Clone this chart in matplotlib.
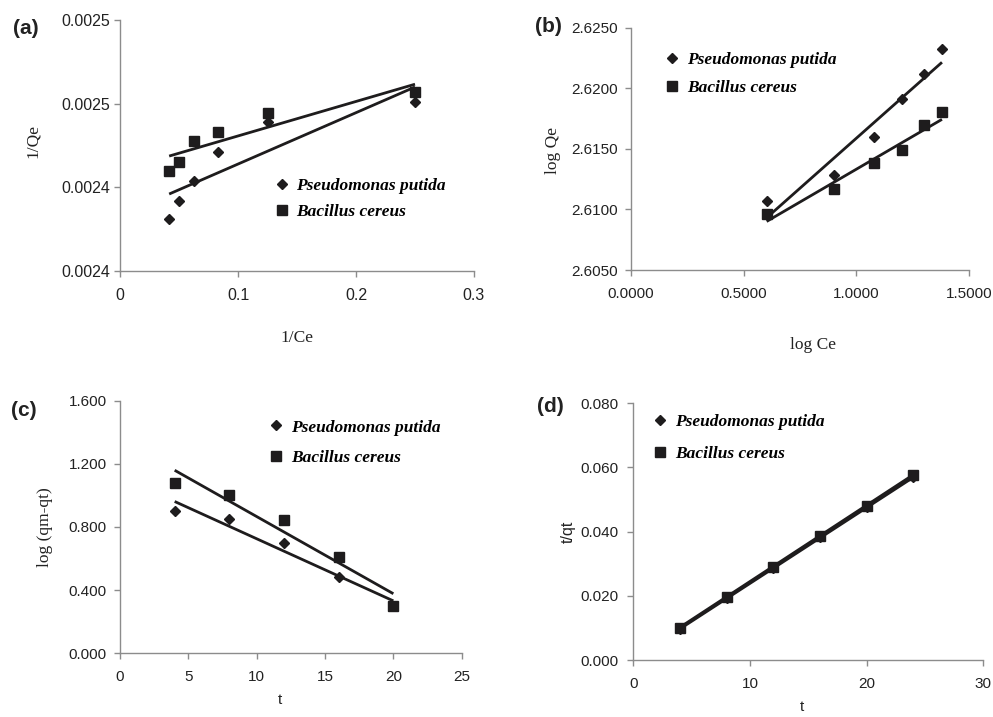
import numpy as np
import matplotlib
matplotlib.use("Agg")
import matplotlib.pyplot as plt
from matplotlib.lines import Line2D

# ---------------- data ----------------
series_names = ["Pseudomonas putida", "Bacillus cereus"]

# (a) Langmuir
a_x = [1/24, 1/20, 1/16, 1/12, 1/8, 1/4]
a_pp = [0.002381, 0.002392, 0.0024036, 0.002421, 0.002439, 0.0024507]
a_bc = [0.0024096, 0.0024154, 0.0024274, 0.002433, 0.0024447, 0.0024567]
a_yticks = [0.00235, 0.0024, 0.00245, 0.0025]
a_yticklabels = ["0.0024", "0.0024", "0.0025", "0.0025"]
a_xticks = [0, 0.1, 0.2, 0.3]
a_xticklabels = ["0", "0.1", "0.2", "0.3"]

# (b) Freundlich
b_x = [0.602, 0.903, 1.079, 1.204, 1.301, 1.380]
b_pp = [2.61067, 2.61281, 2.61598, 2.61909, 2.62120, 2.62324]
b_bc = [2.60959, 2.61171, 2.61383, 2.61488, 2.61697, 2.61801]
b_yticks = [2.605, 2.610, 2.615, 2.620, 2.625]
b_xticks = [0.0, 0.5, 1.0, 1.5]

# (c) pseudo-first order
c_x = [4, 8, 12, 16, 20]
c_pp = [0.903, 0.849, 0.701, 0.481, 0.300]
c_bc = [1.081, 1.005, 0.846, 0.608, 0.302]
c_yticks = [0.0, 0.4, 0.8, 1.2, 1.6]
c_xticks = [0, 5, 10, 15, 20, 25]

# (d) pseudo-second order
d_x = [4, 8, 12, 16, 20, 24]
d_pp = [0.0098, 0.0192, 0.0287, 0.0382, 0.0477, 0.0569]
d_bc = [0.0100, 0.0197, 0.0291, 0.0387, 0.0481, 0.0576]
d_yticks = [0.0, 0.02, 0.04, 0.06, 0.08]
d_xticks = [0, 10, 20, 30]

# ---------------- style ----------------
INK = "#1e1c1d"
SPINE = "#8c8c8c"
SANS = "Liberation Sans"
SERIF = "Liberation Serif"
MS_D = 5.6
MS_S = 6.5

W, H = 993, 717
fig = plt.figure(figsize=(W / 100, H / 100), dpi=100)


def px_axes(left, right, top, bottom):
    return fig.add_axes([left / W, 1 - bottom / H, (right - left) / W, (bottom - top) / H])


def style_axes(ax, ypad, xpad=8.0, fs=11):
    for s in ["top", "right"]:
        ax.spines[s].set_visible(False)
    for s in ["left", "bottom"]:
        ax.spines[s].set_color(SPINE)
        ax.spines[s].set_linewidth(1.0)
    ax.tick_params(axis="both", direction="out", length=4, width=1.0, color=SPINE,
                   labelsize=fs, labelcolor="#222222")
    ax.tick_params(axis="y", pad=ypad)
    ax.tick_params(axis="x", pad=xpad)
    for lab in ax.get_xticklabels() + ax.get_yticklabels():
        lab.set_fontfamily(SANS)


def draw_series(ax, x, yp, yb, lw=2.0):
    x = np.asarray(x, float)
    for y in (yp, yb):
        y = np.asarray(y, float)
        k, b = np.polyfit(x, y, 1)
        xs = np.array([x.min(), x.max()])
        ax.plot(xs, k * xs + b, color=INK, lw=lw, solid_capstyle="butt", zorder=2)
    ax.plot(x, yp, linestyle="none", marker="D", ms=MS_D, color=INK, zorder=3)
    ax.plot(x, yb, linestyle="none", marker="s", ms=MS_S, color=INK, zorder=3)


def add_legend(ax, left_px, mid_px, spacing):
    handles = [Line2D([], [], linestyle="none", marker="D", ms=MS_D, color=INK),
               Line2D([], [], linestyle="none", marker="s", ms=MS_S, color=INK)]
    leg = ax.legend(handles, series_names, loc="center left",
                    bbox_to_anchor=(left_px / W, 1 - mid_px / H),
                    bbox_transform=fig.transFigure, frameon=False,
                    handlelength=1.0, handletextpad=0.35, borderpad=0,
                    borderaxespad=0, labelspacing=spacing,
                    prop={"family": SERIF, "style": "italic", "weight": "bold", "size": 12.5})
    return leg


def label(x, y, s, family=SERIF, rot=0, size=12.5, weight="normal"):
    fig.text(x / W, 1 - y / H, s, ha="center", va="center", rotation=rot,
             fontfamily=family, fontsize=size, fontweight=weight, color="#222222")


# ---------------- (a) ----------------
ax = px_axes(120, 474, 20, 271)
draw_series(ax, a_x, a_pp, a_bc)
ax.set_xlim(0, 0.3)
ax.set_ylim(0.00235, 0.0025)
ax.set_xticks(a_xticks)
ax.set_xticklabels(a_xticklabels)
ax.set_yticks(a_yticks)
ax.set_yticklabels(a_yticklabels)
style_axes(ax, ypad=3.0, fs=11.5)
add_legend(ax, 273, 199, 0.55)
label(297, 338, "1/Ce")
label(33, 141, "1/Qe", rot=90)
label(26, 28, "(a)", family=SANS, size=15, weight="bold")

# ---------------- (b) ----------------
ax = px_axes(631, 969, 27.7, 270)
draw_series(ax, b_x, b_pp, b_bc)
ax.set_xlim(0, 1.5)
ax.set_ylim(2.605, 2.625)
ax.set_xticks(b_xticks)
ax.set_xticklabels(["%.4f" % v for v in b_xticks])
ax.set_yticks(b_yticks)
ax.set_yticklabels(["%.4f" % v for v in b_yticks])
style_axes(ax, ypad=5.5)
add_legend(ax, 663.5, 74, 0.72)
label(813, 345, "log Ce")
label(553, 150, "log Qe", rot=90)
label(548, 27, "(b)", family=SANS, size=15, weight="bold")

# ---------------- (c) ----------------
ax = px_axes(120, 461.7, 400.7, 653.3)
draw_series(ax, c_x, c_pp, c_bc)
ax.set_xlim(0, 25)
ax.set_ylim(0, 1.6)
ax.set_xticks(c_xticks)
ax.set_xticklabels([str(v) for v in c_xticks])
ax.set_yticks(c_yticks)
ax.set_yticklabels(["%.3f" % v for v in c_yticks])
style_axes(ax, ypad=5.5)
add_legend(ax, 267.5, 442.5, 0.8)
label(280, 700, "t", family=SANS, size=11)
label(45, 527, "log (qm-qt)", rot=90)
label(24, 410, "(c)", family=SANS, size=15, weight="bold")

# ---------------- (d) ----------------
ax = px_axes(633.3, 983.3, 403.3, 660)
draw_series(ax, d_x, d_pp, d_bc, lw=2.4)
ax.set_xlim(0, 30)
ax.set_ylim(0, 0.08)
ax.set_xticks(d_xticks)
ax.set_xticklabels([str(v) for v in d_xticks])
ax.set_yticks(d_yticks)
ax.set_yticklabels(["%.3f" % v for v in d_yticks])
style_axes(ax, ypad=6.5)
add_legend(ax, 651.3, 438.3, 0.9)
label(802, 707, "t", family=SANS, size=11)
label(568, 532, "t/qt", family=SANS, size=11.5, rot=90)
label(550, 406, "(d)", family=SANS, size=15, weight="bold")

fig.savefig("out.png", dpi=100, facecolor="white")
